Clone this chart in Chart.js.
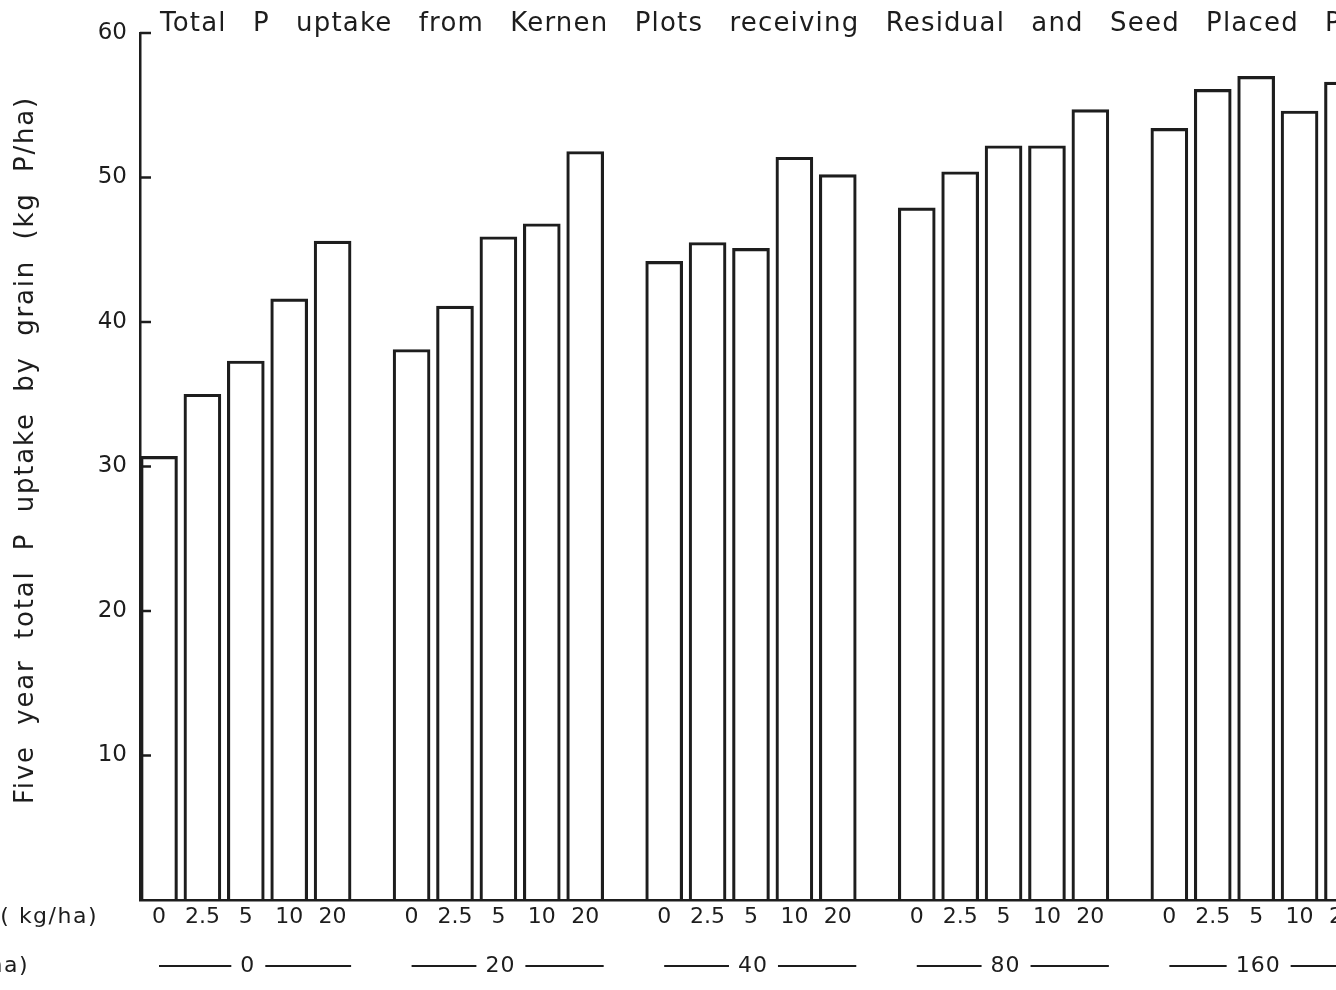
<!DOCTYPE html>
<html>
<head>
<meta charset="utf-8">
<title>Total P uptake from Kernen Plots</title>
<script src="https://cdn.jsdelivr.net/npm/chart.js@4.4.1/dist/chart.umd.min.js"></script>
<style>
  html, body { margin: 0; padding: 0; background: #ffffff; overflow: hidden; }
  #wrap { position: absolute; left: 0; top: 0; width: 1420px; height: 990px; }
</style>
</head>
<body>
<div id="wrap"><canvas id="chart"></canvas></div>
<script>
// Seed-placed P rates (kg/ha) within each residual group
const seedRates = ['0', '2.5', '5', '10', '20'];
// Residual P rates (kg/ha), one group each
const residualRates = ['0', '20', '40', '80', '160'];

// Five year total P uptake by grain (kg P/ha), one array per residual rate
const uptakeResidual0   = [30.7, 35.0, 37.3, 41.6, 45.6];
const uptakeResidual20  = [38.1, 41.1, 45.9, 46.8, 51.8];
const uptakeResidual40  = [44.2, 45.5, 45.1, 51.4, 50.2];
const uptakeResidual80  = [47.9, 50.4, 52.2, 52.2, 54.7];
const uptakeResidual160 = [53.4, 56.1, 57.0, 54.6, 56.6];

const yTickValues = [10, 20, 30, 40, 50, 60];

const titleText = 'Total P uptake from Kernen Plots receiving Residual and Seed Placed P';
const yTitleText = 'Five year total P uptake by grain (kg P/ha)';
const seedRowLabel = 'Seed placed P ( kg/ha)';
const residualRowLabel = 'Residual P (kg/ha)';

// ---- layout ----
const INK = '#1d1d1d';
const FONT = '"DejaVu Sans", "Liberation Sans", sans-serif';
const GROUP_STEP = 5.82;   // distance between group starts, in bar slots
const SLOT_PX = 43.4;      // pixel width of one bar slot
const BAR_PX = 37;
const PLOT_LEFT = 140;
const PLOT_TOP = 33;
const PLOT_BOTTOM_SPACE = 90;
const CANVAS_W = 1420;
const FIRST_BAR_OFFSET = 19; // px from the y axis to the first bar centre

const groups = [uptakeResidual0, uptakeResidual20, uptakeResidual40, uptakeResidual80, uptakeResidual160];
const points = [];
groups.forEach((vals, g) => vals.forEach((v, i) => points.push({ x: g * GROUP_STEP + i, y: v })));
const tickPositions = points.map(p => p.x);

const xMin = -FIRST_BAR_OFFSET / SLOT_PX;
const xMax = xMin + (CANVAS_W - PLOT_LEFT) / SLOT_PX;

function spacedText(ctx, text, x, y, width, letter) {
  ctx.letterSpacing = letter + 'px';
  ctx.wordSpacing = '0px';
  const natural = ctx.measureText(text).width;
  const gaps = (text.match(/ /g) || []).length;
  if (width && gaps) ctx.wordSpacing = ((width - natural) / gaps) + 'px';
  ctx.fillText(text, x, y);
  ctx.letterSpacing = '0px';
  ctx.wordSpacing = '0px';
}

const annotations = {
  id: 'annotations',
  afterDraw(chart) {
    const ctx = chart.ctx;
    const xs = chart.scales.x;
    const ys = chart.scales.y;
    const area = chart.chartArea;
    ctx.save();
    ctx.fillStyle = INK;
    ctx.strokeStyle = INK;

    // inward tick marks on the y axis
    ctx.lineWidth = 2.5;
    yTickValues.forEach(v => {
      const py = ys.getPixelForValue(v);
      ctx.beginPath();
      ctx.moveTo(area.left, py);
      ctx.lineTo(area.left + 11, py);
      ctx.stroke();
    });

    // title
    ctx.font = '26px ' + FONT;
    ctx.textAlign = 'left';
    ctx.textBaseline = 'alphabetic';
    spacedText(ctx, titleText, 160, 31, 1182, 1.2);

    // y axis title
    ctx.save();
    ctx.translate(33, 450);
    ctx.rotate(-Math.PI / 2);
    ctx.textAlign = 'center';
    spacedText(ctx, yTitleText, 0, 0, 708, 1.8);
    ctx.restore();

    // row labels for the two x scales
    ctx.font = '22px ' + FONT;
    ctx.textAlign = 'right';
    ctx.textBaseline = 'middle';
    spacedText(ctx, seedRowLabel, 98, 917, 0, 1.5);
    spacedText(ctx, residualRowLabel, 29, 966, 0, 1.5);

    // residual rate under each group, flanked by rules
    ctx.textAlign = 'center';
    ctx.lineWidth = 2;
    const rowY = 966;
    residualRates.forEach((r, g) => {
      const first = xs.getPixelForValue(g * GROUP_STEP);
      const mid = xs.getPixelForValue(g * GROUP_STEP + 2) + 2;
      const lastRight = xs.getPixelForValue(g * GROUP_STEP + 4) + BAR_PX / 2;
      ctx.letterSpacing = '1px';
      const w = ctx.measureText(r).width;
      ctx.fillText(r, mid, rowY);
      ctx.letterSpacing = '0px';
      ctx.beginPath();
      ctx.moveTo(first, rowY);
      ctx.lineTo(mid - w / 2 - 9, rowY);
      ctx.moveTo(mid + w / 2 + 10, rowY);
      ctx.lineTo(lastRight, rowY);
      ctx.stroke();
    });
    ctx.restore();
  }
};

new Chart(document.getElementById('chart'), {
  type: 'bar',
  data: {
    datasets: [{
      data: points,
      backgroundColor: 'rgba(255,255,255,0)',
      borderColor: INK,
      borderWidth: 2.5,
      barThickness: BAR_PX
    }]
  },
  options: {
    responsive: true,
    maintainAspectRatio: false,
    animation: false,
    layout: { padding: { left: 0, right: 0, top: PLOT_TOP, bottom: 0 } },
    plugins: { legend: { display: false }, tooltip: { enabled: false }, title: { display: false } },
    scales: {
      x: {
        type: 'linear',
        offset: false,
        min: xMin,
        max: xMax,
        grid: { display: true, offset: false, drawOnChartArea: false, drawTicks: false },
        border: { display: true, color: INK, width: 2.5 },
        afterBuildTicks: axis => { axis.ticks = tickPositions.map(v => ({ value: v })); },
        afterFit: axis => { axis.height = PLOT_BOTTOM_SPACE; },
        ticks: {
          autoSkip: false,
          maxRotation: 0,
          padding: 4,
          color: INK,
          font: { family: FONT, size: 22 },
          callback: (value, index) => seedRates[index % seedRates.length]
        }
      },
      y: {
        min: 0,
        max: 60,
        grid: { display: true, drawOnChartArea: false, drawTicks: false },
        border: { display: true, color: INK, width: 2.5 },
        afterBuildTicks: axis => { axis.ticks = [0].concat(yTickValues).map(v => ({ value: v })); },
        afterFit: axis => { axis.width = PLOT_LEFT; },
        ticks: {
          padding: 13,
          color: INK,
          font: { family: FONT, size: 23 },
          callback: v => (v === 0 ? '' : String(v))
        }
      }
    }
  },
  plugins: [annotations]
});
</script>
</body>
</html>
